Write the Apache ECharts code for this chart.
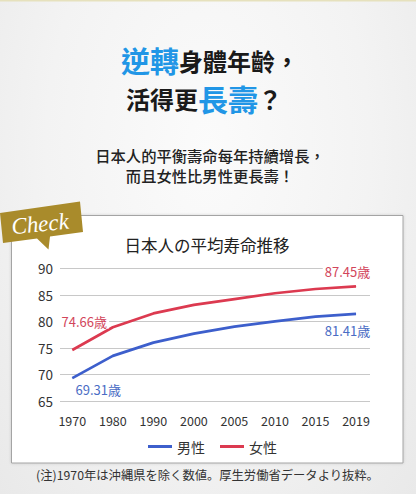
<!DOCTYPE html>
<html><head><meta charset="utf-8">
<script src="https://cdn.jsdelivr.net/npm/echarts@6/dist/echarts.min.js"></script>
<style>
html,body{margin:0;padding:0;}
body{width:416px;height:494px;overflow:hidden;
background:
 radial-gradient(ellipse at 50% 30%, #fbfbfb 0%, #f3f3f3 55%, #e9e9e9 100%);}
#c{width:416px;height:494px;}
</style></head>
<body><div id="c"></div>
<script>
const years = ['1970','1980','1990','2000','2005','2010','2015','2019'];
const male = [69.3, 73.5, 76.0, 77.7, 79.0, 80.0, 80.9, 81.4];
const female = [74.6, 78.9, 81.5, 83.1, 84.2, 85.3, 86.1, 86.6];
const seriesNames = ['男性','女性'];
const maleLabels = {0:'69.31歳', 7:'81.41歳'};
const femaleLabels = {0:'74.66歳', 7:'87.45歳'};
const yTicks = [65,70,75,80,85,90];
const chartTitle = '日本人の平均寿命推移';
const note = '(注)1970年は沖縄県を除く数値。厚生労働省データより抜粋。';

const BLUE = '#3d5fcc', RED = '#dc3a50';
const JP = '"Noto Sans CJK JP","Noto Sans",sans-serif';
const TC = '"Noto Sans CJK TC","Noto Sans",sans-serif';

function buildData(vals, labels, color, offsets){
  return vals.map((v,i)=>{
    if (labels[i] === undefined) return v;
    return {value:v, label:{show:true, position:'inside', offset:offsets[i],
      formatter:labels[i], color:color, fontSize:13, fontFamily:JP,
      backgroundColor:'#fff', padding:[1,2]}};
  });
}

const chart = echarts.init(document.getElementById('c'), null, {renderer:'svg'});
chart.setOption({
  backgroundColor:'transparent',
  animation:false,
  grid:[
    {left:60, right:46, top:268.3, bottom:93},
    {left:72.3, right:60, top:268.3, bottom:93}
  ],
  xAxis:[
    {gridIndex:0, type:'value', show:false, min:0, max:1},
    {gridIndex:1, type:'category', data:years, boundaryGap:false,
     axisLine:{show:false}, axisTick:{show:false},
     axisLabel:{color:'#333', fontSize:12.5, margin:13, fontFamily:JP}}
  ],
  yAxis:[
    {gridIndex:0, type:'value', min:yTicks[0], max:yTicks[yTicks.length-1], interval:5,
     axisLine:{show:false}, axisTick:{show:false},
     axisLabel:{color:'#333', fontSize:13.5, margin:7, fontFamily:JP},
     splitLine:{lineStyle:{color:'#c8c8c8', width:1}}},
    {gridIndex:1, type:'value', min:yTicks[0], max:yTicks[yTicks.length-1], interval:5, show:false,
     splitLine:{show:false}}
  ],
  legend:{left:148, top:439.5, padding:0, itemWidth:24, itemHeight:3, itemGap:15, icon:'rect',
    textStyle:{fontSize:14, color:'#333', fontFamily:JP},
    data:seriesNames},
  series:[
    {name:seriesNames[0], type:'line', xAxisIndex:1, yAxisIndex:1,
     data:buildData(male, maleLabels, '#4a6cc4', {0:[26,11.7], 7:[-8.5,16.4]}),
     symbol:'circle', symbolSize:0.5, showSymbol:true, color:BLUE,
     lineStyle:{width:2.7, color:BLUE}, itemStyle:{color:BLUE}, label:{show:false}},
    {name:seriesNames[1], type:'line', xAxisIndex:1, yAxisIndex:1,
     data:buildData(female, femaleLabels, '#d2455b', {0:[12,-29], 7:[-8.5,-15]}),
     symbol:'circle', symbolSize:0.5, showSymbol:true, color:RED,
     lineStyle:{width:2.7, color:RED}, itemStyle:{color:RED}, label:{show:false}}
  ],
  graphic:[
    {type:'rect', z:-10, shape:{x:0,y:0,width:416,height:1.5}, style:{fill:'#e6e1bd'}},
    {type:'text', z:5, style:{x:210, y:60, align:'center', verticalAlign:'middle',
      text:'{b|逆轉}{k|身體年齡，}',
      rich:{b:{fontSize:29, fontWeight:'bold', fill:'#2196e6', fontFamily:TC},
            k:{fontSize:24, fontWeight:'bold', fill:'#1a1a1a', fontFamily:TC}}}},
    {type:'text', z:5, style:{x:204, y:98, align:'center', verticalAlign:'middle',
      text:'{k|活得更}{b|長壽}{k|？}',
      rich:{b:{fontSize:30, fontWeight:'bold', fill:'#2196e6', fontFamily:TC},
            k:{fontSize:24, fontWeight:'bold', fill:'#1a1a1a', fontFamily:TC}}}},
    {type:'text', z:5, style:{x:210, y:155, align:'center', verticalAlign:'middle',
      text:'日本人的平衡壽命每年持續增長，', fontSize:15.3, fontWeight:500, fill:'#222', fontFamily:TC}},
    {type:'text', z:5, style:{x:210, y:175, align:'center', verticalAlign:'middle',
      text:'而且女性比男性更長壽！', fontSize:15.3, fontWeight:500, fill:'#222', fontFamily:TC}},
    {type:'rect', z:-5, shape:{x:11.5,y:215.5,width:391.5,height:247.5},
      style:{fill:'#fff', stroke:'#a4a4a4', lineWidth:1, shadowBlur:3, shadowColor:'rgba(0,0,0,0.15)'}},
    {type:'polygon', z:10, shape:{points:[[0,213],[80,201.5],[83,232],[50,236.6],[48.5,249.5],[37,238.5],[3,243]]},
      style:{fill:'#a98b2b'}},
    {type:'text', z:11, x:40, y:224, rotation:0.1, style:{x:0, y:0, align:'center', verticalAlign:'middle',
      text:'Check', fontSize:23, fontStyle:'italic', fill:'#fff', fontFamily:'"Liberation Serif","DejaVu Serif",serif'}},
    {type:'text', z:5, style:{x:207, y:245, align:'center', verticalAlign:'middle',
      text:chartTitle, fontSize:16.5, fill:'#222', fontFamily:JP}},
    {type:'text', z:5, style:{x:207.5, y:475, align:'center', verticalAlign:'middle',
      text:note, fontSize:12.3, fill:'#333', fontFamily:JP}}
  ]
});
</script></body></html>
